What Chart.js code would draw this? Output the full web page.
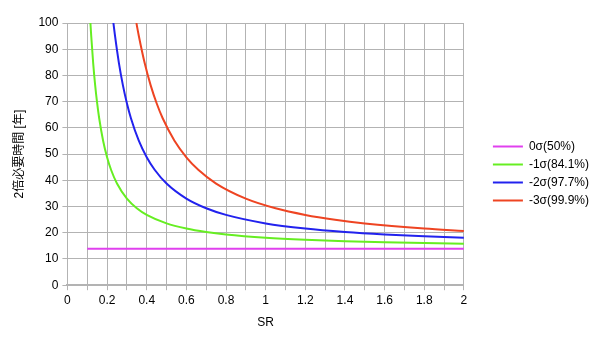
<!DOCTYPE html>
<html>
<head>
<meta charset="utf-8">
<script src="https://cdn.jsdelivr.net/npm/chart.js@4.4.1/dist/chart.umd.min.js"></script>
<style>
  html, body { margin: 0; padding: 0; background: #fff; }
  #wrap { width: 600px; height: 337px; }
</style>
</head>
<body>
<div id="wrap"><canvas id="chart" width="600" height="337"></canvas></div>
<script>
// 系列ごとの値 (SR, 2倍必要時間)
const seriesNames = ['0σ(50%)', '-1σ(84.1%)', '-2σ(97.7%)', '-3σ(99.9%)'];

const sr0 = [0.1, 2.0];
const t0 = [13.86, 13.86];

const sr1 = [0.116, 0.12, 0.13, 0.14, 0.15, 0.16, 0.18, 0.2, 0.22, 0.25, 0.3, 0.35, 0.4, 0.5, 0.6, 0.7, 0.8, 1.0, 1.2, 1.4, 1.6, 1.8, 2.0];
const t1 = [100, 95.14, 84.62, 76.22, 69.40, 63.77, 55.10, 48.79, 44.02, 38.77, 33.02, 29.34, 26.81, 23.57, 21.61, 20.30, 19.36, 18.12, 17.33, 16.79, 16.39, 16.09, 15.85];

const sr2 = [0.232, 0.24, 0.26, 0.28, 0.3, 0.32, 0.36, 0.4, 0.44, 0.5, 0.6, 0.7, 0.8, 1.0, 1.2, 1.4, 1.6, 1.8, 2.0];
const t2 = [100, 95.14, 84.62, 76.22, 69.40, 63.77, 55.10, 48.79, 44.02, 38.77, 33.02, 29.34, 26.81, 23.57, 21.61, 20.30, 19.36, 18.66, 18.12];

const sr3 = [0.348, 0.36, 0.39, 0.42, 0.45, 0.48, 0.54, 0.6, 0.66, 0.75, 0.9, 1.05, 1.2, 1.35, 1.5, 1.8, 2.0];
const t3 = [100, 95.14, 84.62, 76.22, 69.40, 63.77, 55.10, 48.79, 44.02, 38.77, 33.02, 29.34, 26.81, 24.97, 23.57, 21.61, 20.69];

// x軸の目盛ラベル (0.1刻みの線, 0.2刻みのラベル)
const xTickLabels = ['0', '', '0.2', '', '0.4', '', '0.6', '', '0.8', '', '1', '', '1.2', '', '1.4', '', '1.6', '', '1.8', '', '2'];

const colors = ['#e040ee', '#66ee22', '#2222ee', '#ee4422'];

const FONT = "'Liberation Sans', Arial, 'Noto Sans CJK JP', sans-serif";
Chart.defaults.font.family = FONT;
Chart.defaults.font.size = 12;
Chart.defaults.color = '#000';

function pts(xs, ys) {
    return xs.map((x, i) => ({ x: x, y: ys[i] }));
}

const allSr = [sr0, sr1, sr2, sr3];
const allT = [t0, t1, t2, t3];

// 凡例をグラフから少し離す
const legendShift = {
    id: 'legendShift',
    afterLayout(chart) {
        const lg = chart.legend;
        if (!lg) return;
        lg.left += 23;
        lg.right += 23;
        lg.top -= 3;
        lg.bottom -= 3;
        lg.adjustHitBoxes();
    }
};

new Chart(document.getElementById('chart').getContext('2d'), {
    type: 'line',
    data: {
        datasets: seriesNames.map((name, i) => ({
            label: name,
            data: pts(allSr[i], allT[i]),
            borderColor: colors[i],
            backgroundColor: colors[i],
            borderWidth: 2,
            pointRadius: 0,
            fill: false,
            cubicInterpolationMode: 'monotone'
        }))
    },
    options: {
        responsive: false,
        animation: false,
        layout: { padding: { left: 12, right: 24, top: 23, bottom: 7 } },
        plugins: {
            tooltip: { enabled: false },
            legend: {
                position: 'right',
                labels: {
                    usePointStyle: true,
                    pointStyle: 'line',
                    pointStyleWidth: 30,
                    padding: 6,
                    font: { size: 12 }
                }
            }
        },
        scales: {
            x: {
                type: 'linear',
                min: 0,
                max: 2,
                ticks: {
                    stepSize: 0.1,
                    maxRotation: 0,
                    autoSkip: false,
                    padding: 3,
                    callback: (v, i) => xTickLabels[i]
                },
                grid: { color: '#b3b3b3', tickLength: 5 },
                border: { color: '#b3b3b3', width: 2 },
                title: { display: true, text: 'SR', font: { size: 12 }, padding: { top: 5, bottom: 0 } }
            },
            y: {
                min: 0,
                max: 100,
                ticks: { stepSize: 10, padding: 4 },
                grid: { color: '#b3b3b3', tickLength: 5 },
                border: { color: '#b3b3b3', width: 1 },
                title: { display: true, text: '2倍必要時間 [年]', font: { size: 12 }, padding: { top: 0, bottom: 8 } }
            }
        }
    },
    plugins: [legendShift]
});
</script>
</body>
</html>
